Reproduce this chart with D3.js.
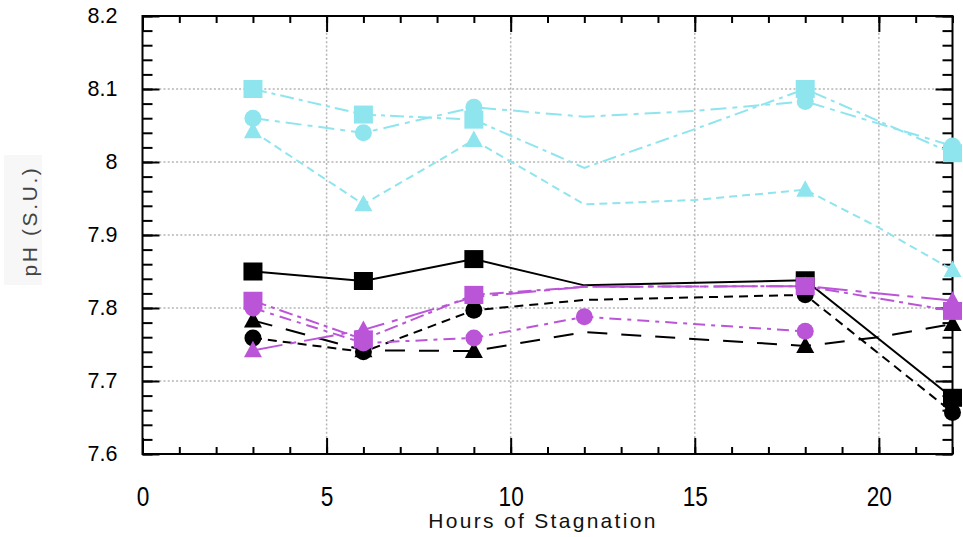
<!DOCTYPE html>
<html>
<head>
<meta charset="utf-8">
<script src="https://cdn.jsdelivr.net/npm/d3@7"></script>
<style>
  html, body { margin: 0; padding: 0; background: #fff; }
  svg { display: block; }
</style>
</head>
<body>
<svg id="chart" width="963" height="537"></svg>
<script>
// ---------------- data ----------------
const hours = [3, 6, 9, 12, 15, 18, 20, 22];

const blackSquare    = [7.850, 7.837, 7.867, 7.831, null, 7.838, null, 7.677];
const blackCircle    = [7.759, 7.740, 7.797, 7.811, null, 7.818, null, 7.657];
const blackTriangle  = [7.783, 7.742, 7.741, 7.767, null, 7.748, 7.760, 7.778];
const cyanSquare     = [8.100, 8.065, 8.058, 7.992, 8.045, 8.100, null, 8.012];
const cyanCircle     = [8.060, 8.040, 8.075, 8.062, 8.070, 8.083, null, 8.022];
const cyanTriangle   = [8.042, 7.942, 8.030, 7.942, 7.948, 7.962, 7.910, 7.852];
const purpleSquare   = [7.810, 7.757, 7.818, 7.829, null, 7.830, null, 7.796];
const purpleCircle   = [7.800, 7.752, 7.759, 7.788, null, 7.768, null, null];
const purpleTriangle = [7.742, 7.770, 7.815, 7.829, null, 7.830, null, 7.810];

// hours at which a marker is drawn
const markedHours        = [3, 6, 9, 18, 22];
const markedHoursCircleP = [3, 6, 9, 12, 18];

const xTickLabels = [0, 5, 10, 15, 20];
const yTickLabels = [7.6, 7.7, 7.8, 7.9, 8.0, 8.1, 8.2];

const series = [
  { name: "blackSquare",    values: blackSquare,    color: "#000000", shape: "square",   dash: null,        marks: markedHours },
  { name: "blackCircle",    values: blackCircle,    color: "#000000", shape: "circle",   dash: "9,6",       marks: markedHours },
  { name: "blackTriangle",  values: blackTriangle,  color: "#000000", shape: "triangle", dash: "20,14",     marks: markedHours },
  { name: "cyanTriangle",   values: cyanTriangle,   color: "#8FE5EE", shape: "triangle", dash: "8,5",       marks: markedHours },
  { name: "cyanCircle",     values: cyanCircle,     color: "#8FE5EE", shape: "circle",   dash: "16,6,5,6",  marks: markedHours },
  { name: "cyanSquare",     values: cyanSquare,     color: "#8FE5EE", shape: "square",   dash: "14,5,4,5",  marks: markedHours },
  { name: "purpleTriangle", values: purpleTriangle, color: "#BB55D8", shape: "triangle", dash: "30,8,6,8",  marks: markedHours },
  { name: "purpleCircle",   values: purpleCircle,   color: "#BB55D8", shape: "circle",   dash: "12,6,4,6",  marks: markedHoursCircleP },
  { name: "purpleSquare",   values: purpleSquare,   color: "#BB55D8", shape: "square",   dash: "14,5,4,5",  marks: markedHours }
];

// ---------------- layout ----------------
const svg = d3.select("#chart");
const L = 142.5, R = 952.5, T = 16, B = 454;

const x = d3.scaleLinear().domain([0, 22]).range([L, R]);
const y = d3.scaleLinear().domain([7.6, 8.2]).range([B, T]);

// grid
const grid = svg.append("g").attr("class", "grid");
grid.selectAll("line.vg").data(xTickLabels.filter(d => d > 0)).enter().append("line")
  .attr("x1", d => x(d)).attr("x2", d => x(d)).attr("y1", T).attr("y2", B)
  .attr("stroke", "#b5b5b5").attr("stroke-width", 1.5).attr("stroke-dasharray", "2,2.2");
grid.selectAll("line.hg").data(yTickLabels.filter(d => d > 7.6 && d < 8.2)).enter().append("line")
  .attr("y1", d => y(d)).attr("y2", d => y(d)).attr("x1", L).attr("x2", R)
  .attr("stroke", "#b5b5b5").attr("stroke-width", 1.5).attr("stroke-dasharray", "2,2.2");

// axes
function styleAxis(g) {
  g.selectAll(".domain").remove();
  g.selectAll(".tick line").attr("stroke", "#000").attr("stroke-width", 2);
}
const xMinor = d3.range(0, 23, 1);
const yMinor = d3.range(0, 31).map(i => +(7.6 + i * 0.02).toFixed(2));

svg.append("g").attr("transform", `translate(0,${B})`)
  .call(d3.axisBottom(x).tickValues(xMinor).tickSize(-7).tickFormat(""))
  .call(styleAxis);
svg.append("g").attr("transform", `translate(0,${T})`)
  .call(d3.axisTop(x).tickValues(xMinor).tickSize(-7).tickFormat(""))
  .call(styleAxis);
const xMajor = svg.append("g").attr("transform", `translate(0,${B})`)
  .call(d3.axisBottom(x).tickValues(xTickLabels).tickSize(-16).tickPadding(33).tickFormat(d3.format("d")))
  .call(styleAxis);
svg.append("g").attr("transform", `translate(0,${T})`)
  .call(d3.axisTop(x).tickValues(xTickLabels).tickSize(-16).tickFormat(""))
  .call(styleAxis);
xMajor.selectAll("text")
  .attr("font-family", "'Liberation Sans', Arial, sans-serif")
  .attr("font-size", 27).attr("fill", "#000")
  .attr("transform", "scale(0.84,1)");

svg.append("g").attr("transform", `translate(${L},0)`)
  .call(d3.axisLeft(y).tickValues(yMinor).tickSize(-10).tickFormat(""))
  .call(styleAxis);
svg.append("g").attr("transform", `translate(${R},0)`)
  .call(d3.axisRight(y).tickValues(yMinor).tickSize(-10).tickFormat(""))
  .call(styleAxis);
const yMajor = svg.append("g").attr("transform", `translate(${L},0)`)
  .call(d3.axisLeft(y).tickValues(yTickLabels).tickSize(-17).tickPadding(25).tickFormat(d => String(+d.toFixed(1))))
  .call(styleAxis);
svg.append("g").attr("transform", `translate(${R},0)`)
  .call(d3.axisRight(y).tickValues(yTickLabels).tickSize(-17).tickFormat(""))
  .call(styleAxis);
yMajor.selectAll("text")
  .attr("font-family", "'Liberation Sans', Arial, sans-serif")
  .attr("font-size", 21.5).attr("fill", "#000");

// frame
svg.append("rect").attr("x", L).attr("y", T).attr("width", R - L).attr("height", B - T)
  .attr("fill", "none").attr("stroke", "#000").attr("stroke-width", 2);

// axis titles
svg.append("text")
  .attr("x", 543).attr("y", 528)
  .attr("text-anchor", "middle")
  .attr("font-family", "'Liberation Sans', Arial, sans-serif")
  .attr("font-size", 21).attr("letter-spacing", 2.3).attr("fill", "#111")
  .text("Hours of Stagnation");

svg.append("rect").attr("x", 4).attr("y", 155).attr("width", 38).attr("height", 130)
  .attr("fill", "#f7f7f7");
svg.append("text")
  .attr("transform", "translate(37,221) rotate(-90)")
  .attr("text-anchor", "middle")
  .attr("font-family", "'Liberation Sans', Arial, sans-serif")
  .attr("font-size", 21).attr("letter-spacing", 2.6).attr("fill", "#444")
  .text("pH (S.U.)");

// lines
const line = d3.line()
  .defined(d => d.v !== null)
  .x(d => x(d.h)).y(d => y(d.v));

series.forEach(s => {
  const pts = hours.map((h, i) => ({ h, v: s.values[i] })).filter(d => d.v !== null);
  svg.append("path")
    .datum(pts)
    .attr("d", line)
    .attr("fill", "none")
    .attr("stroke", s.color)
    .attr("stroke-width", 2)
    .attr("stroke-dasharray", s.dash);
});

// markers
function markerPath(shape, cx, cy) {
  const p = d3.path();
  if (shape === "square") {
    p.rect(cx - 9.5, cy - 9, 19, 18);
  } else if (shape === "circle") {
    p.arc(cx, cy, 8.5, 0, 2 * Math.PI);
  } else {
    p.moveTo(cx, cy - 9.5);
    p.lineTo(cx + 9, cy + 7);
    p.lineTo(cx - 9, cy + 7);
    p.closePath();
  }
  return p.toString();
}

const order = ["blackTriangle", "blackCircle", "blackSquare",
               "cyanTriangle", "cyanCircle", "cyanSquare",
               "purpleTriangle", "purpleCircle", "purpleSquare"];
order.forEach(name => {
  const s = series.find(d => d.name === name);
  const pts = hours.map((h, i) => ({ h, v: s.values[i] }))
    .filter(d => d.v !== null && s.marks.includes(d.h));
  svg.append("g").selectAll("path").data(pts).enter().append("path")
    .attr("d", d => markerPath(s.shape, x(d.h), y(d.v)))
    .attr("fill", s.color);
});
</script>
</body>
</html>
